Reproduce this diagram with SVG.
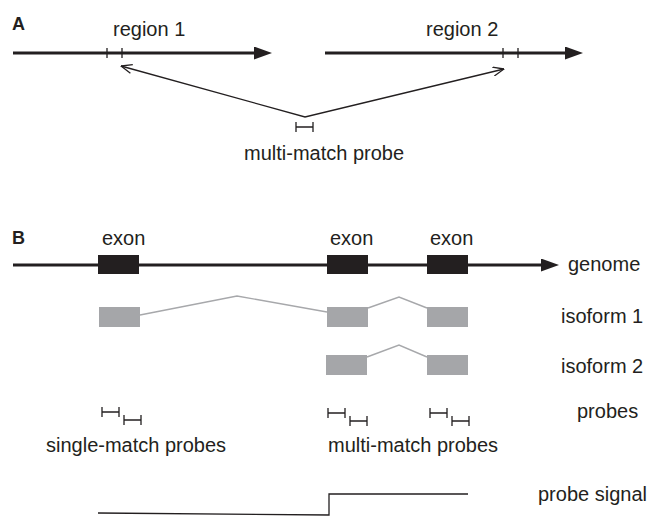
<svg xmlns="http://www.w3.org/2000/svg" width="655" height="516" viewBox="0 0 655 516">
<style>
text{font-family:"Liberation Sans",Arial,sans-serif;font-size:20px;fill:#231f20;stroke:none}
.hd{font-weight:bold;font-size:18px}
.thick{stroke:#231f20;stroke-width:2.8;fill:none}
.thin{stroke:#231f20;stroke-width:1.3;fill:none}
.intron{stroke:#a7a8ab;stroke-width:1.4;fill:none}
.exon{fill:#231f20}
.iso{fill:#a5a6a9}
.probe{stroke:#231f20;stroke-width:1.3;fill:none}
</style>
<defs>
<marker id="big" viewBox="0 0 18 13" refX="8" refY="6.5" markerWidth="18" markerHeight="13" markerUnits="userSpaceOnUse" orient="auto">
<path d="M0,0 L18,6.5 L0,13 Z" fill="#231f20"/>
</marker>
<marker id="open" viewBox="0 0 12 10" refX="11.5" refY="5" markerWidth="12" markerHeight="10" markerUnits="userSpaceOnUse" orient="auto-start-reverse">
<path d="M0.5,0.5 L11.5,5 L0.5,9.5" fill="none" stroke="#231f20" stroke-width="1.3"/>
</marker>
<path id="probeSym" d="M0,-5 V5 M0,0 H17 M17,-5 V5"/>
</defs>

<g id="panelA">
<text class="hd" x="12" y="30">A</text>
<g id="region1">
<line class="thick" x1="13" y1="53" x2="262" y2="53" marker-end="url(#big)"/>
<path class="thin" d="M107,48 V58 M122,48 V58"/>
<text x="113" y="36">region 1</text>
</g>
<g id="region2">
<line class="thick" x1="325" y1="53" x2="573" y2="53" marker-end="url(#big)"/>
<path class="thin" d="M503,48 V58 M518,48 V58"/>
<text x="426" y="36">region 2</text>
</g>
<g id="mmprobe">
<use href="#probeSym" class="probe" x="296" y="127"/>
<text x="244" y="160">multi-match probe</text>
</g>
<g id="connectorsA">
<polyline class="thin" points="121,66 305,117 504,69" marker-start="url(#open)" marker-end="url(#open)"/>
</g>
</g>

<g id="panelB">
<text class="hd" x="12" y="244">B</text>
<g id="genome">
<line class="thick" x1="13" y1="265" x2="549" y2="265" marker-end="url(#big)"/>
<rect class="exon" x="98" y="255" width="41" height="19"/>
<rect class="exon" x="327" y="255" width="41" height="19"/>
<rect class="exon" x="427" y="255" width="41" height="19"/>
<text x="102" y="245">exon</text>
<text x="330" y="245">exon</text>
<text x="430" y="245">exon</text>
<text x="568" y="271">genome</text>
</g>
<g id="isoform1">
<rect class="iso" x="99" y="307" width="41" height="20"/>
<rect class="iso" x="327" y="307" width="41" height="20"/>
<rect class="iso" x="427" y="307" width="41" height="20"/>
<text x="561" y="323">isoform 1</text>
</g>
<g id="isoform2">
<rect class="iso" x="326" y="355" width="41" height="20"/>
<rect class="iso" x="427" y="355" width="41" height="20"/>
<text x="561" y="373">isoform 2</text>
</g>
<g id="connectorsB">
<polyline class="intron" points="140,315 237,296 327,312"/>
<polyline class="intron" points="368,308 399,297 427,308"/>
<polyline class="intron" points="367,357 399,345 427,357"/>
</g>
<g id="probes">
<g class="probe">
<use href="#probeSym" x="102" y="412"/>
<use href="#probeSym" x="124" y="420"/>
<use href="#probeSym" x="328" y="413"/>
<use href="#probeSym" x="350" y="421"/>
<use href="#probeSym" x="430" y="413"/>
<use href="#probeSym" x="452" y="421"/>
</g>
<text x="577" y="418">probes</text>
<text x="46" y="452">single-match probes</text>
<text x="328" y="452">multi-match probes</text>
</g>
<g id="signal">
<polyline class="thin" points="98,513 329,515 329,494 468,494"/>
<text x="538" y="501">probe signal</text>
</g>
</g>
</svg>
